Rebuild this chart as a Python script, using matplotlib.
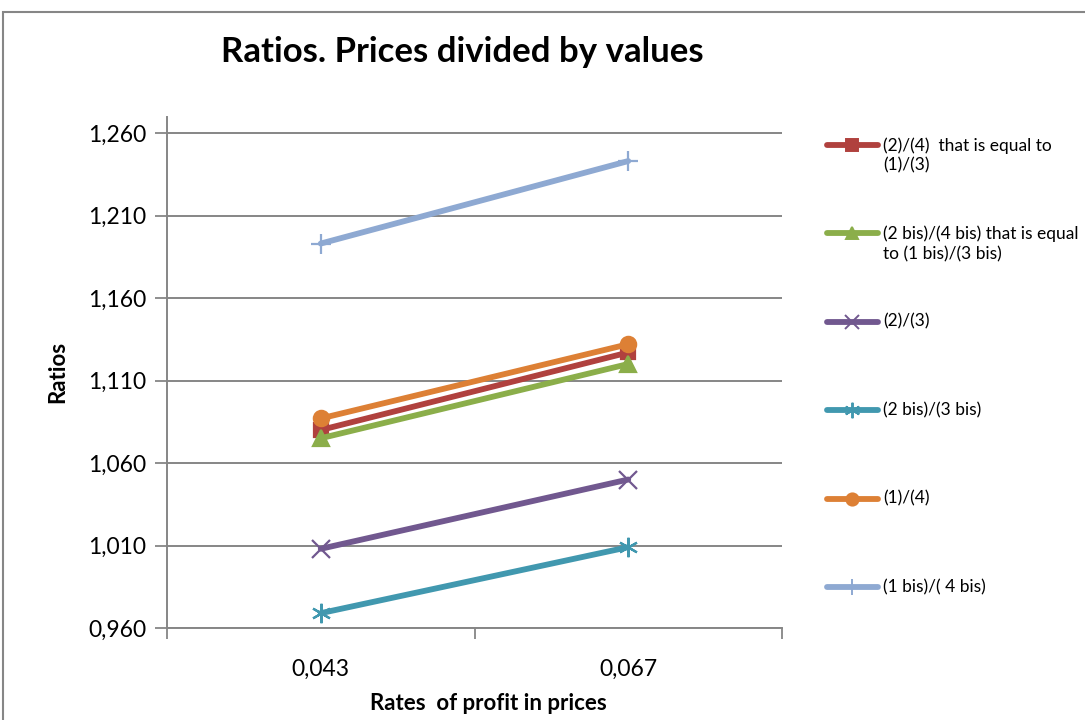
import matplotlib
matplotlib.use('Agg')
import matplotlib.pyplot as plt
from matplotlib.lines import Line2D
from matplotlib.patches import Rectangle
from matplotlib.ticker import FuncFormatter

plt.rcParams['font.family'] = ['Lato', 'DejaVu Sans']

# data
rates = ['0,043', '0,067']
labels = ['(2)/(4)  that is equal to\n(1)/(3)',
          '(2 bis)/(4 bis) that is equal\nto (1 bis)/(3 bis)',
          '(2)/(3)',
          '(2 bis)/(3 bis)',
          '(1)/(4)',
          '(1 bis)/( 4 bis)']
r_2_4 = [1.080, 1.127]
r_2b_4b = [1.075, 1.120]
r_2_3 = [1.008, 1.050]
r_2b_3b = [0.969, 1.009]
r_1_4 = [1.087, 1.132]
r_1b_4b = [1.193, 1.243]
yticks = [0.960, 1.010, 1.060, 1.110, 1.160, 1.210, 1.260]

series = [r_2_4, r_2b_4b, r_2_3, r_2b_3b, r_1_4, r_1b_4b]
colors = ['#B0413E', '#8BAE4A', '#71588F', '#4198AF', '#DD8035', '#8EA9D2']
markers = ['s', '^', 'x', (6, 2, 0), 'o', '+']
msizes = [10, 11, 13, 14, 11, 15]
grid_col = '#868686'

fig = plt.figure(figsize=(10.85, 7.2), dpi=100)
ax = fig.add_axes([167 / 1085, 92 / 720, 615 / 1085, 511 / 720])

xs = list(range(len(rates)))
for vals, c, m, ms in zip(series, colors, markers, msizes):
    ax.plot(xs, vals, color=c, lw=4.2, marker=m, ms=ms, mew=1.6,
            solid_capstyle='round', zorder=3)

ax.set_xlim(-0.5, 1.5)
ax.set_ylim(0.960, 1.2697)
ax.set_yticks(yticks)
ax.yaxis.set_major_formatter(FuncFormatter(lambda v, p: f'{v:.3f}'.replace('.', ',')))
ax.set_xticks(xs)
ax.set_xticklabels(rates)
ax.set_xticks([-0.5, 0.5, 1.5], minor=True)
ax.tick_params(axis='x', which='major', length=0, labelsize=16.5, pad=22)
ax.tick_params(axis='x', which='minor', length=8, width=1.3, color=grid_col, direction='out')
ax.tick_params(axis='y', length=9, width=1.3, color=grid_col, labelsize=16.5, pad=6)
ax.grid(axis='y', color=grid_col, lw=1.4)
ax.set_axisbelow(True)
for s in ['top', 'right']:
    ax.spines[s].set_visible(False)
for s in ['left', 'bottom']:
    ax.spines[s].set_color(grid_col)
    ax.spines[s].set_linewidth(1.4)

fig.text(462 / 1085, 1 - 52 / 720, 'Ratios. Prices divided by values',
         ha='center', va='center', fontsize=25, fontweight='bold')
fig.text(58 / 1085, 1 - 372 / 720, 'Ratios', rotation=90, ha='center', va='center',
         fontsize=16, fontweight='bold')
fig.text(488 / 1085, 1 - 703 / 720, 'Rates  of profit in prices', ha='center', va='center',
         fontsize=16, fontweight='bold')

# legend drawn by hand so the rows sit evenly like the original
for i, (lab, c, m, ms) in enumerate(zip(labels, colors, markers, msizes)):
    y = 1 - (145 + i * 88.4) / 720
    fig.add_artist(Line2D([827 / 1085, 878 / 1085], [y, y], transform=fig.transFigure,
                          color=c, lw=4.2, solid_capstyle='round'))
    fig.add_artist(Line2D([852 / 1085], [y], transform=fig.transFigure, color=c,
                          marker=m, ms=ms * 0.8, mew=1.4, lw=0))
    fig.text(883 / 1085, y + 8 / 720, lab, ha='left', va='top', fontsize=12.5,
             linespacing=1.3)

fig.add_artist(Rectangle((3 / 1085, -0.1), 1.2, 1.1 - 12 / 720, transform=fig.transFigure,
                         fill=False, edgecolor=grid_col, lw=1.5))

fig.savefig('out.png', dpi=100)
